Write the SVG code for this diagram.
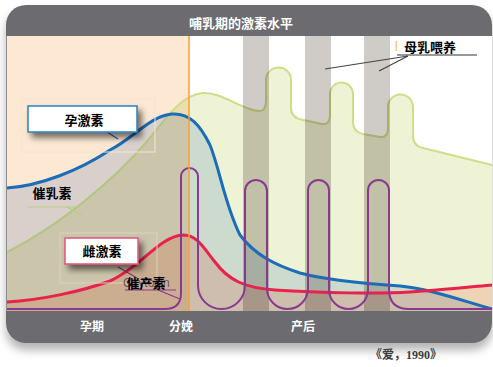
<svg xmlns="http://www.w3.org/2000/svg" width="493" height="367" viewBox="0 0 493 367">
<defs>
<filter id="frameShadow" x="-10%" y="-10%" width="120%" height="125%">
<feDropShadow dx="0" dy="7" stdDeviation="5" flood-color="#000" flood-opacity="0.3"/>
</filter>
<filter id="boxShadow" x="-20%" y="-30%" width="150%" height="190%">
<feDropShadow dx="4" dy="5" stdDeviation="3" flood-color="#000" flood-opacity="0.55"/>
</filter>
<clipPath id="plotClip"><rect x="7" y="36" width="485" height="275"/></clipPath>
</defs>
<style>
.mul{mix-blend-mode:multiply}
.cn{font-family:"Noto Sans CJK SC","Noto Sans",sans-serif;font-weight:bold}
.hdr{fill:#ffffff;font-size:13px;text-anchor:middle}
.ftr{fill:#ffffff;font-size:12px;text-anchor:middle}
.lbl{fill:#000000;font-size:13px;text-anchor:middle}
.lead{fill:none;stroke-width:1.2}
.faint{fill:none;stroke-width:1}
</style>

<g id="frame" filter="url(#frameShadow)">
<rect x="6" y="5" width="486" height="338" rx="20" ry="20" fill="#6c6c70"/>
</g>
<rect x="7" y="36" width="485" height="275" fill="#ffffff"/>

<g id="plot" clip-path="url(#plotClip)">
<rect id="pregnancy-zone" x="7" y="36" width="182" height="275" fill="#fde8d3"/>
<path id="prolactin-area" class="mul" fill="#eef3d6" d="M7,252 C55,228 110,185 150,138 C168,115 182,95 203,93 C222,92 238,108 258,111 Q266,112 266,100 L266,80 A12.5,12.5 0 0 1 291,80 L291,108 Q291,118 303,120 L322,124 Q330,125 330,115 L330,94 A11.5,11.5 0 0 1 353,94 L353,122 Q353,132 363,134 L380,137 Q388,138 388,128 L388,107 A12.5,12.5 0 0 1 413,107 L413,136 Q413,146 423,148 L492,165 L492,311 L7,311 Z"/>
<path id="prolactin-line" fill="none" stroke="#cfdc88" stroke-width="2" d="M7,252 C55,228 110,185 150,138 C168,115 182,95 203,93 C222,92 238,108 258,111 Q266,112 266,100 L266,80 A12.5,12.5 0 0 1 291,80 L291,108 Q291,118 303,120 L322,124 Q330,125 330,115 L330,94 A11.5,11.5 0 0 1 353,94 L353,122 Q353,132 363,134 L380,137 Q388,138 388,128 L388,107 A12.5,12.5 0 0 1 413,107 L413,136 Q413,146 423,148 L492,165"/>
<g id="feeding-bars" class="mul" fill="#cfcbc7">
<rect x="243" y="36" width="26" height="275"/>
<rect x="305" y="36" width="26" height="275"/>
<rect x="364" y="36" width="26" height="275"/>
</g>
<path id="progesterone-area" class="mul" fill="#dce5f6" d="M7,188 C40,186 80,170 110,150 C135,137 150,116 172,114 C190,113 200,125 210,145 C220,170 225,205 240,235 C255,255 275,265 300,273 C330,281 370,284 400,286 C430,289 460,300 492,309 L492,311 L7,311 Z"/>
<path id="estrogen-area" class="mul" fill="#ffdfd7" d="M7,302 C40,300 80,292 110,281 C140,268 160,236 183,235 C198,235 205,250 215,262 C228,280 245,288 275,290 C320,293 380,294 410,292 C440,290 470,287 492,285 L492,311 L7,311 Z"/>
<path id="progesterone-line" fill="none" stroke="#1a6db6" stroke-width="3" d="M7,188 C40,186 80,170 110,150 C135,137 150,116 172,114 C190,113 200,125 210,145 C220,170 225,205 240,235 C255,255 275,265 300,273 C330,281 370,284 400,286 C430,289 460,300 492,309"/>
<path id="estrogen-line" fill="none" stroke="#e8224a" stroke-width="3" d="M7,302 C40,300 80,292 110,281 C140,268 160,236 183,235 C198,235 205,250 215,262 C228,280 245,288 275,290 C320,293 380,294 410,292 C440,290 470,287 492,285"/>
<path id="oxytocin-line" fill="none" stroke="#8a3a8e" stroke-width="2" d="M7,309 L165,309 Q181,309 181,293 L181,176.5 A8.5,8.5 0 0 1 198,176.5 L198,285.5 A23.5,23.5 0 0 0 245,285.5 L245,191 A11,11 0 0 1 267,191 L267,288.5 A20.5,20.5 0 0 0 308,288.5 L308,190.5 A10.5,10.5 0 0 1 329,190.5 L329,289.5 A19.5,19.5 0 0 0 368,289.5 L368,190.5 A10.5,10.5 0 0 1 389,190.5 L389,289 Q389,309 409,309 L492,309"/>
<line id="birth-line" x1="189" y1="36" x2="189" y2="311" stroke="#f4a03a" stroke-width="1.5"/>
</g>
<line x1="6.5" y1="36" x2="6.5" y2="311" stroke="#8e8e8e" stroke-width="1"/>

<g id="connectors">
<line class="lead" stroke="#2a6aa6" x1="107" y1="132" x2="118" y2="139"/>
<line class="lead" stroke="#b9cc80" stroke-width="1.5" x1="28" y1="207" x2="80" y2="207"/>
<line class="lead" stroke="#b9cc80" x1="67" y1="207" x2="82" y2="215"/>
<line class="lead" stroke="#8a3456" x1="118" y1="267" x2="137" y2="278"/>
<line class="lead" stroke="#8a3a8e" x1="125" y1="290" x2="176" y2="290"/>
<line class="lead" stroke="#8a3a8e" x1="158" y1="290" x2="180" y2="299"/>
<line class="lead" stroke="#333333" x1="397" y1="55" x2="477" y2="55"/>
<line class="lead" stroke="#444444" x1="408" y1="56" x2="325" y2="69"/>
<line class="lead" stroke="#444444" x1="408" y1="56" x2="379" y2="71"/>
</g>

<g id="header">
<text class="cn hdr" x="241" y="27.5">哺乳期的激素水平</text>
</g>

<g id="label-progesterone">
<rect class="faint" stroke="#f5e3d0" x="22" y="99" width="133" height="53"/>
<rect x="28" y="106" width="109" height="26" fill="#ffffff" stroke="#2a80c4" stroke-width="1.5" filter="url(#boxShadow)"/>
<text class="cn lbl" x="84" y="124.5">孕激素</text>
</g>

<g id="label-prolactin">
<text class="cn lbl" x="52" y="198">催乳素</text>
</g>

<g id="label-estrogen">
<rect class="faint" stroke="#ddd0c4" x="60" y="233" width="97" height="50"/>
<rect x="65" y="238" width="73" height="26" fill="#ffffff" stroke="#e0557a" stroke-width="1.5" filter="url(#boxShadow)"/>
<text class="cn lbl" x="102" y="256">雌激素</text>
</g>

<g id="label-oxytocin">
<text x="123" y="287" font-family="Liberation Sans, Arial, sans-serif" font-size="12" fill="#6a5472">Oxytocin</text>
<text class="cn lbl" x="146" y="288">催产素</text>
</g>

<g id="label-breastfeeding">
<rect x="395.5" y="41" width="1.5" height="10" fill="#f8c88e"/>
<text class="cn lbl" x="430" y="52">母乳喂养</text>
</g>

<g id="footer">
<text class="cn ftr" x="92" y="331">孕期</text>
<text class="cn ftr" x="181" y="331">分娩</text>
<text class="cn ftr" x="303" y="331">产后</text>
</g>

<text id="citation" x="406" y="359" text-anchor="middle" font-family="Liberation Serif, Noto Sans CJK SC, serif" font-weight="bold" font-size="12" fill="#3c3c3c">《爱，1990》</text>
</svg>
